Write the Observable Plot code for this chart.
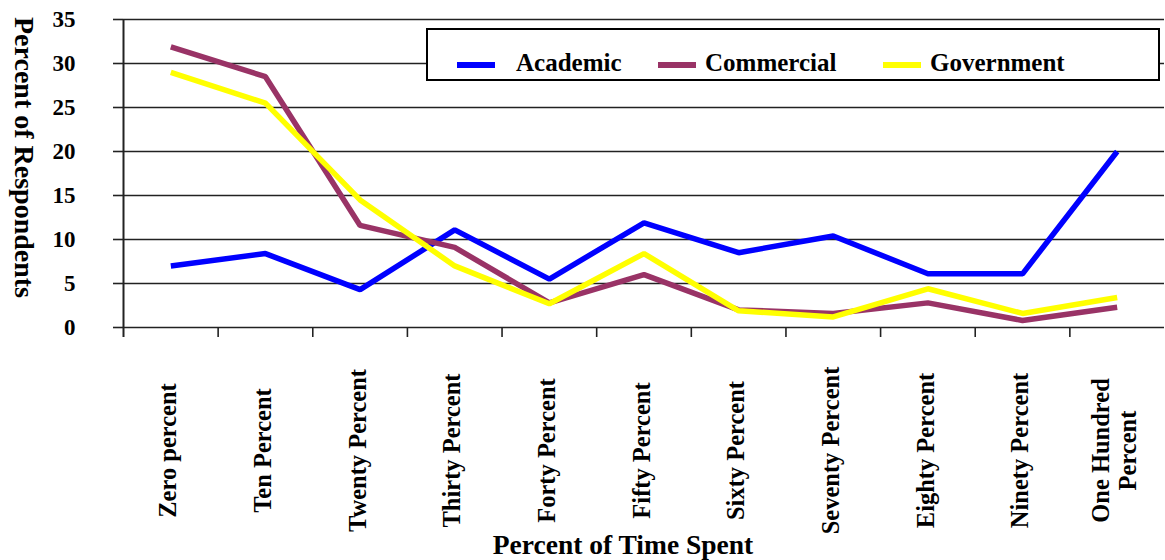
<!DOCTYPE html>
<html>
<head>
<meta charset="utf-8">
<script src="https://cdn.jsdelivr.net/npm/d3@7"></script>
<script src="https://cdn.jsdelivr.net/npm/@observablehq/plot@0.6"></script>
<style>
  html, body { margin: 0; padding: 0; background: #fff; }
  #wrap { position: relative; width: 1165px; height: 560px; font-family: "Liberation Serif", "Times New Roman", serif; font-weight: bold; }
  #wrap svg { display: block; }
  .legend { position: absolute; left: 426px; top: 28px; width: 730px; height: 49px; border: 2px solid #000; background: #fff; }
  .legend .sw { position: absolute; height: 6px; width: 38px; top: 32px; }
  .legend .lb { position: absolute; top: 20px; font-size: 25px; line-height: 25px; color: #000; white-space: nowrap; }
</style>
</head>
<body>
<div id="wrap"></div>
<script>
// ---- data ----
const categories = ["Zero percent", "Ten Percent", "Twenty Percent", "Thirty Percent", "Forty Percent",
  "Fifty Percent", "Sixty Percent", "Seventy Percent", "Eighty Percent", "Ninety Percent", "One Hundred\nPercent"];
const seriesNames = ["Academic", "Commercial", "Government"];
const seriesColors = ["#0000FF", "#993366", "#FFFF00"];
const academic   = [7.0, 8.4, 4.3, 11.1, 5.5, 11.9, 8.5, 10.4, 6.1, 6.1, 20.0];
const commercial = [31.9, 28.5, 11.6, 9.1, 2.8, 6.0, 2.0, 1.6, 2.8, 0.8, 2.3];
const government = [29.0, 25.5, 14.5, 7.0, 2.7, 8.4, 1.9, 1.2, 4.4, 1.6, 3.4];
const yTicks = [0, 5, 10, 15, 20, 25, 30, 35];
const yTitle = "Percent of Respondents";
const xTitle = "Percent of Time Spent";

// ---- layout ----
const W = 1165, H = 560, mL = 123, mR = 1, mT = 19, mB = 233;
const step = (W - mL - mR) / categories.length;
const frameH = H - mT - mB;

const seriesValues = [academic, commercial, government];
const rows = [];
seriesNames.forEach((s, si) => categories.forEach((c, ci) => rows.push({series: s, cat: c, value: seriesValues[si][ci]})));

const chart = Plot.plot({
  width: W, height: H,
  marginLeft: mL, marginRight: mR, marginTop: mT, marginBottom: mB,
  style: {fontFamily: '"Liberation Serif", "Times New Roman", serif', fontWeight: "bold", background: "white", color: "#000"},
  x: {type: "point", domain: categories, padding: 0.5, round: false, axis: null},
  y: {domain: [0, 35], axis: null},
  color: {domain: seriesNames, range: seriesColors},
  marks: [
    Plot.ruleY(yTicks, {stroke: "#222", strokeWidth: 1.6}),
    Plot.axisY(yTicks, {label: null, tickSize: 10, tickPadding: 38, fontSize: 23, fontWeight: "bold", stroke: "#222", strokeWidth: 1.6, tickFormat: d => String(d)}),
    Plot.ruleX([categories[0]], {x: d => d, dx: -step / 2, stroke: "#222", strokeWidth: 2, insetBottom: -10}),
    Plot.ruleX(categories.slice(1), {x: d => d, dx: -step / 2, stroke: "#222", strokeWidth: 1.6, insetTop: frameH, insetBottom: -10}),
    Plot.line(rows, {x: "cat", y: "value", z: "series", stroke: "series", strokeWidth: 5.5, strokeLinejoin: "miter", strokeLinecap: "butt"}),
    Plot.text(categories, {x: d => d, text: d => d, frameAnchor: "bottom", dy: 123, dx: -3, rotate: -90,
      textAnchor: "middle", lineAnchor: "middle", fontSize: 24.5, fontWeight: "bold", fill: "#000", lineHeight: 1.1}),
    Plot.text([yTitle], {text: d => d, frameAnchor: "left", dx: -100, dy: -16, rotate: 90,
      textAnchor: "middle", lineAnchor: "middle", fontSize: 28, fontWeight: "bold", fill: "#000"}),
    Plot.text([xTitle], {text: d => d, frameAnchor: "bottom", dx: -21, dy: 218, textAnchor: "middle",
      lineAnchor: "middle", fontSize: 27.5, fontWeight: "bold", fill: "#000"})
  ]
});

const wrap = document.getElementById("wrap");
wrap.appendChild(chart);

// ---- legend (HTML overlay inside plot area) ----
const legendSwatchX = [29, 230, 455];
const legendLabelX = [88, 277, 502];
const legend = document.createElement("div");
legend.className = "legend";
seriesNames.forEach((s, i) => {
  const sw = document.createElement("div");
  sw.className = "sw";
  sw.style.left = legendSwatchX[i] + "px";
  sw.style.background = seriesColors[i];
  legend.appendChild(sw);
  const lb = document.createElement("div");
  lb.className = "lb";
  lb.style.left = legendLabelX[i] + "px";
  lb.textContent = s;
  legend.appendChild(lb);
});
wrap.appendChild(legend);
</script>
</body>
</html>
